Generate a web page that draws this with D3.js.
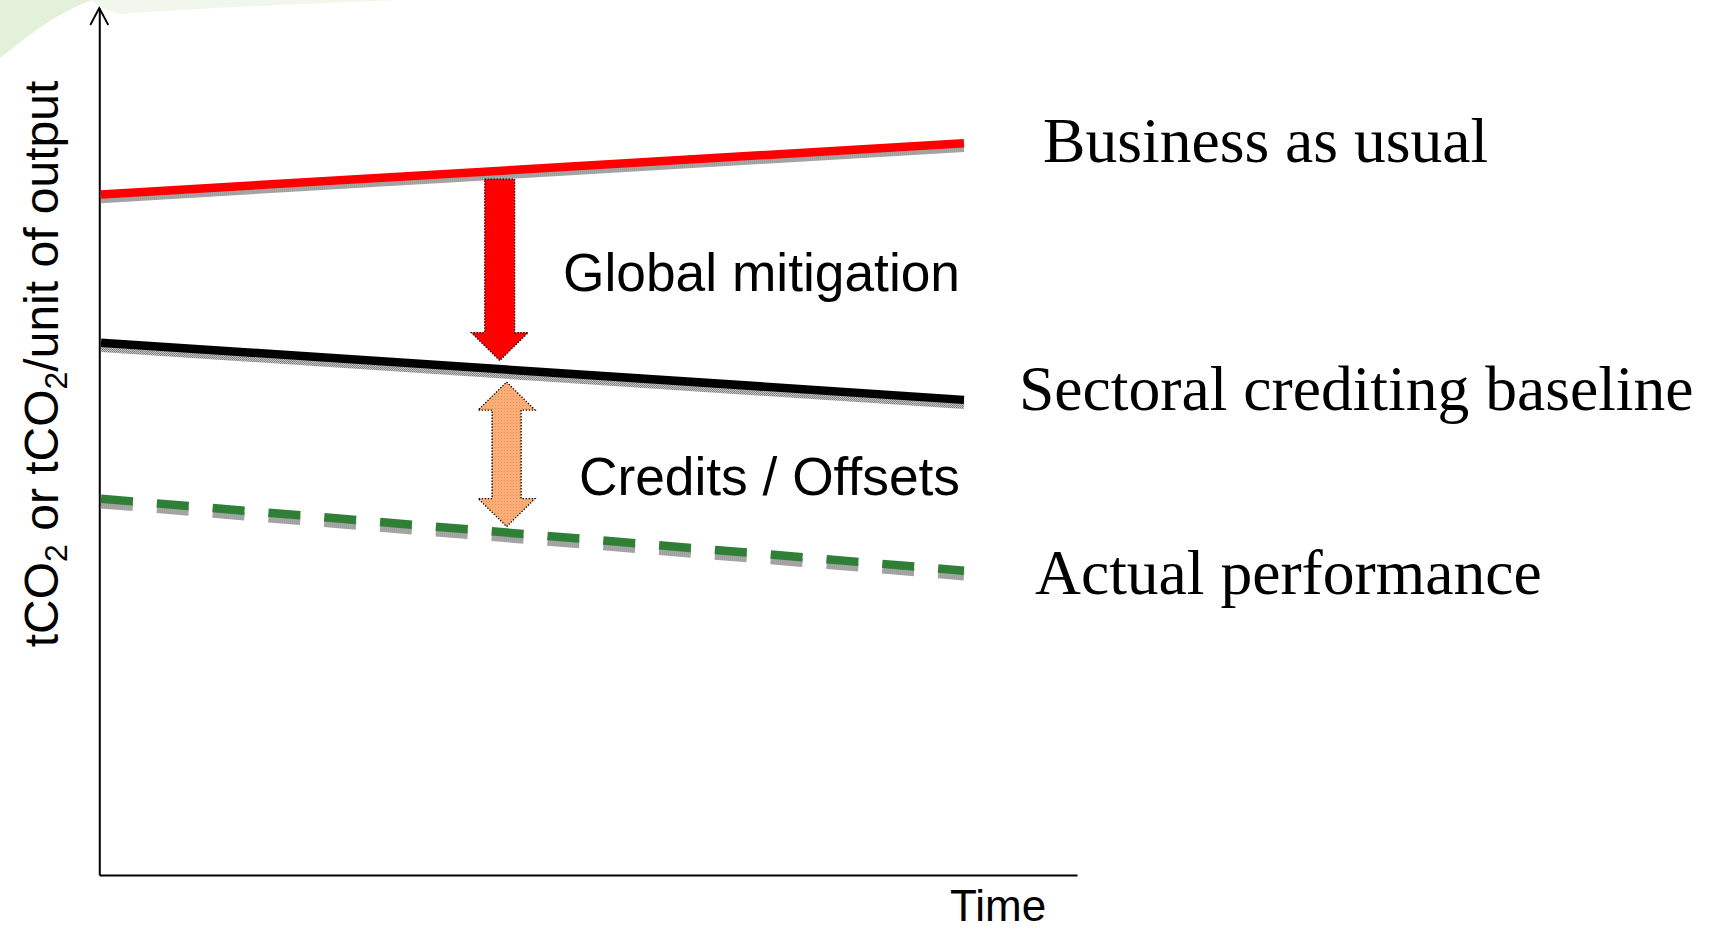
<!DOCTYPE html>
<html>
<head>
<meta charset="utf-8">
<script src="https://cdn.jsdelivr.net/npm/d3@7"></script>
<style>
  html, body { margin: 0; padding: 0; background: #ffffff; }
  svg { display: block; }
</style>
</head>
<body>
<svg id="chart" width="1716" height="932"></svg>
<script>
// ---------- data ----------
const years = [0, 10];                 // time (arbitrary units)
const businessAsUsual = [78.5, 84.4];  // tCO2 / unit of output
const creditingBaseline = [61.4, 54.8];
const actualPerformance = [43.4, 35.1];
const seriesLabels = ["Business as usual", "Sectoral crediting baseline", "Actual performance"];
const gapLabels = ["Global mitigation", "Credits / Offsets"];
const arrowTimes = [4.62, 4.7];        // where the gap arrows are drawn
const xAxisLabel = "Time";
const yAxisLimits = [0, 100];
const xAxisLimits = [-0.02, 11.31];

// ---------- scales ----------
const svg = d3.select("#chart");
const x = d3.scaleLinear().domain([0, 10]).range([101, 964]);
const y = d3.scaleLinear().domain(yAxisLimits).range([875, 8]);

const interp = (arr, t) => arr[0] + (arr[1] - arr[0]) * (t - years[0]) / (years[1] - years[0]);

// ---------- defs ----------
const defs = svg.append("defs");
const shadow = defs.append("pattern").attr("id", "shadowPat")
  .attr("width", 2).attr("height", 2).attr("patternUnits", "userSpaceOnUse");
shadow.append("rect").attr("width", 2).attr("height", 2).attr("fill", "#c4c4c4");
shadow.append("rect").attr("width", 1).attr("height", 1).attr("fill", "#7a7a7a");
shadow.append("rect").attr("x", 1).attr("y", 1).attr("width", 1).attr("height", 1).attr("fill", "#8a8a8a");

const orangePat = defs.append("pattern").attr("id", "orangePat")
  .attr("width", 3).attr("height", 3).attr("patternUnits", "userSpaceOnUse");
orangePat.append("rect").attr("width", 3).attr("height", 3).attr("fill", "#fcae78");
orangePat.append("rect").attr("width", 1).attr("height", 1).attr("fill", "#f08d52");

// ---------- decorative watermark arc (top-left) ----------
svg.append("path")
  .attr("d", "M0,0 L92,0 C70,8 45,22 18,44 L0,58 Z")
  .attr("fill", "#e3f0da");
svg.append("path")
  .attr("d", "M92,0 L400,0 C300,4 200,8 120,14 C100,8 95,4 92,0 Z")
  .attr("fill", "#f1f7ec");

// ---------- axes ----------
const xAxisScale = d3.scaleLinear().domain(xAxisLimits).range([x(xAxisLimits[0]), x(xAxisLimits[1])]);
const yAxisScale = d3.scaleLinear().domain(yAxisLimits).range([y(0), y(100)]);

svg.append("g")
  .attr("transform", `translate(0,${y(0)})`)
  .call(d3.axisBottom(xAxisScale).tickValues([]).tickSizeOuter(0))
  .call(g => g.select(".domain").attr("stroke", "#000").attr("stroke-width", 2));

svg.append("g")
  .attr("transform", `translate(${x(xAxisLimits[0])},0)`)
  .call(d3.axisLeft(yAxisScale).tickValues([]).tickSizeOuter(0))
  .call(g => g.select(".domain").attr("stroke", "#000").attr("stroke-width", 2));

// open arrow head on the y axis
const ax = x(xAxisLimits[0]), ay = y(yAxisLimits[1]);
svg.append("path")
  .attr("d", `M${ax - 9},${ay + 17} L${ax},${ay} L${ax + 9},${ay + 17}`)
  .attr("fill", "none").attr("stroke", "#000").attr("stroke-width", 1.8);

// ---------- lines ----------
const line = d3.line().x((d, i) => x(years[i])).y(d => y(d));

function drawSeries(values, color, width, shadowOffset, dash) {
  const g = svg.append("g");
  const sh = g.append("path").datum(values)
    .attr("d", line)
    .attr("transform", `translate(0,${shadowOffset})`)
    .attr("fill", "none").attr("stroke", "url(#shadowPat)").attr("stroke-width", width);
  const p = g.append("path").datum(values)
    .attr("d", line)
    .attr("fill", "none").attr("stroke", color).attr("stroke-width", width);
  if (dash) { sh.attr("stroke-dasharray", dash); p.attr("stroke-dasharray", dash); }
}

drawSeries(businessAsUsual, "#ff0000", 8.5, 4.5, null);
drawSeries(creditingBaseline, "#000000", 8.5, 5, null);
drawSeries(actualPerformance, "#2f7f36", 8.5, 5.5, "32,24");

// ---------- gap arrows ----------
function downArrow(cx, yTop, yTip, shaftW, headW, headL) {
  const s = shaftW / 2, h = headW / 2, hb = yTip - headL;
  return `M${cx - s},${yTop} L${cx + s},${yTop} L${cx + s},${hb} L${cx + h},${hb} L${cx},${yTip} ` +
         `L${cx - h},${hb} L${cx - s},${hb} Z`;
}
function doubleArrow(cx, yTop, yBot, shaftW, headW, headL) {
  const s = shaftW / 2, h = headW / 2, t = yTop + headL, b = yBot - headL;
  return `M${cx},${yTop} L${cx + h},${t} L${cx + s},${t} L${cx + s},${b} L${cx + h},${b} L${cx},${yBot} ` +
         `L${cx - h},${b} L${cx - s},${b} L${cx - s},${t} L${cx - h},${t} Z`;
}

const t1 = arrowTimes[0];
svg.append("path")
  .attr("d", downArrow(x(t1), y(interp(businessAsUsual, t1)) + 8.5, y(interp(creditingBaseline, t1)) - 8.5, 30, 57, 28))
  .attr("fill", "#ff0000").attr("stroke", "#000").attr("stroke-width", 1.3)
  .attr("stroke-dasharray", "1.3,1.7");

const t2 = arrowTimes[1];
svg.append("path")
  .attr("d", doubleArrow(x(t2), y(interp(creditingBaseline, t2)) + 12.5, y(interp(actualPerformance, t2)) - 6, 29, 57, 28))
  .attr("fill", "url(#orangePat)").attr("stroke", "#000").attr("stroke-width", 1.3)
  .attr("stroke-dasharray", "1.3,1.7");

// ---------- text ----------
const serif = "'Liberation Serif', 'Times New Roman', serif";
const sans = "'Liberation Sans', Arial, sans-serif";

const serifPos = [[1043, 162], [1019, 410], [1035, 594]];
svg.selectAll("text.series").data(seriesLabels).join("text")
  .attr("class", "series")
  .attr("x", (d, i) => serifPos[i][0]).attr("y", (d, i) => serifPos[i][1])
  .attr("font-family", serif).attr("font-size", 63.6).attr("fill", "#000")
  .text(d => d);

const gapY = [291, 495];
svg.selectAll("text.gap").data(gapLabels).join("text")
  .attr("class", "gap")
  .attr("x", 960).attr("y", (d, i) => gapY[i])
  .attr("text-anchor", "end")
  .attr("font-family", sans).attr("font-size", 53.3).attr("fill", "#000")
  .text(d => d);

svg.append("text")
  .attr("x", 950).attr("y", 921)
  .attr("font-family", sans).attr("font-size", 44).attr("fill", "#000")
  .text(xAxisLabel);

// y-axis label with subscripts
const yl = svg.append("text")
  .attr("transform", "translate(58,364) rotate(-90)")
  .attr("text-anchor", "middle")
  .attr("font-family", sans).attr("font-size", 48).attr("fill", "#000");
yl.append("tspan").text("tCO");
yl.append("tspan").attr("dy", 9).attr("font-size", 32).text("2");
yl.append("tspan").attr("dy", -9).text(" or tCO");
yl.append("tspan").attr("dy", 9).attr("font-size", 32).text("2");
yl.append("tspan").attr("dy", -9).text("/unit of output");
</script>
</body>
</html>
